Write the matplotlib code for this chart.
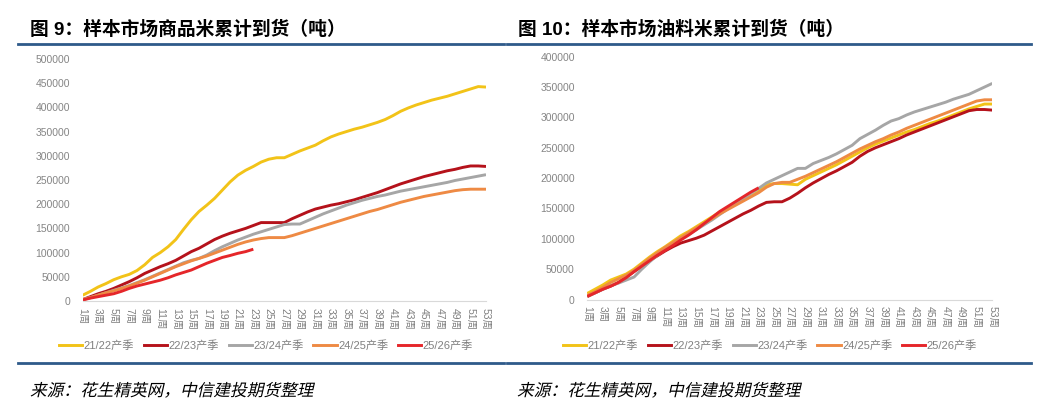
import matplotlib
matplotlib.use("Agg")
import matplotlib.pyplot as plt
from matplotlib.lines import Line2D
from matplotlib import patheffects
from matplotlib.transforms import Affine2D

plt.rcParams['font.family'] = ['Liberation Sans', 'Noto Sans CJK SC', 'DejaVu Sans']

# datos
semanas = list(range(1, 54))
series = ["21/22产季", "22/23产季", "23/24产季", "24/25产季", "25/26产季"]
colores = ["#F2C318", "#B5121B", "#A6A6A6", "#EE8A44", "#E5262A"]

# Figura 9: arroz comercial
com_2122 = [12000, 20000, 29000, 36000, 44000, 50000, 55000, 63000, 75000, 90000,
            100000, 112000, 127000, 148000, 168000, 185000, 198000, 212000, 229000, 246000,
            260000, 270000, 278000, 287000, 293000, 296000, 296000, 303000, 310000, 316000,
            322000, 331000, 339000, 345000, 350000, 355000, 359000, 364000, 369000, 375000,
            383000, 392000, 399000, 405000, 410000, 415000, 419000, 423000, 428000, 433000,
            438000, 443000, 442000]
com_2223 = [3000, 9000, 15000, 20000, 26000, 33000, 40000, 48000, 57000, 64000,
            71000, 77000, 84000, 93000, 102000, 109000, 118000, 127000, 134000, 140000,
            145000, 150000, 156000, 162000, 162000, 162000, 162000, 170000, 177000, 184000,
            190000, 194000, 198000, 201000, 205000, 209000, 214000, 219000, 224000, 230000,
            236000, 242000, 247000, 252000, 257000, 261000, 265000, 269000, 272000, 276000,
            279000, 279000, 278000]
com_2324 = [3000, 7000, 12000, 17000, 22000, 27000, 32000, 38000, 44000, 51000,
            58000, 65000, 72000, 79000, 84000, 88000, 95000, 104000, 112000, 119000,
            126000, 132000, 138000, 143000, 148000, 153000, 158000, 159000, 159000, 166000,
            173000, 180000, 186000, 192000, 198000, 203000, 208000, 212000, 216000, 219000,
            223000, 227000, 230000, 233000, 236000, 239000, 242000, 245000, 249000, 252000,
            255000, 258000, 261000]
com_2425 = [3000, 7000, 12000, 17000, 21000, 26000, 31000, 37000, 43000, 50000,
            57000, 64000, 71000, 77000, 83000, 88000, 93000, 99000, 105000, 111000,
            117000, 122000, 126000, 129000, 131000, 131000, 131000, 135000, 140000, 145000,
            150000, 155000, 160000, 165000, 170000, 175000, 180000, 185000, 189000, 194000,
            199000, 204000, 208000, 212000, 216000, 219000, 222000, 225000, 228000, 230000,
            231000, 231000, 231000]
com_2526 = [2000, 6000, 9000, 12000, 15000, 20000, 26000, 31000, 35000, 39000,
            43000, 48000, 54000, 59000, 64000, 71000, 78000, 84000, 90000, 94000,
            98500, 102000, 107000]

# Figura 10: arroz para aceite
ace_2122 = [10000, 17000, 24000, 32000, 37000, 42000, 50000, 60000, 70000, 79000,
            87000, 96000, 105000, 112000, 120000, 128000, 136000, 144000, 151000, 158000,
            164000, 170000, 178000, 189000, 191000, 191000, 190000, 189000, 198000, 204000,
            210000, 216000, 222000, 229000, 236000, 243000, 250000, 256000, 261000, 266000,
            271000, 276000, 280000, 285000, 290000, 294000, 299000, 304000, 309000, 314000,
            318000, 322000, 322000]
ace_2223 = [5000, 11000, 17000, 22000, 28000, 37000, 46000, 55000, 64000, 72000,
            80000, 87000, 93000, 97000, 101000, 106000, 113000, 120000, 127000, 134000,
            141000, 147000, 154000, 160000, 161000, 161000, 167000, 175000, 184000, 192000,
            199000, 206000, 212000, 219000, 226000, 236000, 244000, 250000, 255000, 260000,
            265000, 271000, 276000, 281000, 286000, 291000, 296000, 301000, 306000, 311000,
            313000, 313000, 312000]
ace_2324 = [5000, 11000, 17000, 23000, 27000, 32000, 37000, 50000, 62000, 73000,
            82000, 91000, 100000, 107000, 115000, 123000, 131000, 140000, 149000, 157000,
            164000, 175000, 183000, 192000, 198000, 204000, 210000, 216000, 216000, 224000,
            229000, 234000, 240000, 247000, 254000, 265000, 272000, 279000, 287000, 294000,
            298000, 304000, 309000, 313000, 317000, 321000, 325000, 330000, 334000, 338000,
            344000, 350000, 356000]
ace_2425 = [7000, 13000, 20000, 28000, 34000, 40000, 48000, 58000, 68000, 77000,
            86000, 94000, 102000, 110000, 118000, 126000, 133000, 141000, 148000, 155000,
            162000, 169000, 176000, 185000, 191000, 193000, 193000, 198000, 203000, 209000,
            215000, 221000, 227000, 234000, 241000, 248000, 254000, 260000, 265000, 271000,
            276000, 282000, 287000, 292000, 297000, 302000, 307000, 312000, 317000, 322000,
            327000, 329000, 329000]
ace_2526 = [5000, 11000, 17000, 22000, 28000, 36000, 46000, 55000, 64000, 73000,
            81000, 89000, 98000, 106000, 115000, 125000, 135000, 145000, 153000, 161000,
            169000, 177000, 184000]

xt = semanas[::2]
xtl = [str(s) + "周" for s in xt]

fig = plt.figure(figsize=(10.48, 4.13), dpi=100)
W, H = 1048.0, 413.0


#Inclinamos el texto (la fuente CJK no tiene cursiva)
class Oblicua(patheffects.AbstractPathEffect):
    def draw_path(self, renderer, gc, tpath, affine, rgbFace=None):
        renderer.draw_path(gc, tpath, Affine2D().skew_deg(13, 0) + affine, rgbFace)


def grafico(rect, datos, ymax, ypaso):
    ax = fig.add_axes(rect)
    for d, c in zip(datos, colores):
        ax.plot(semanas[:len(d)], d, color=c, lw=2.1, solid_capstyle='butt')
    ax.set_xlim(1, 53)
    ax.set_ylim(0, ymax)
    ax.set_yticks(range(0, ymax + 1, ypaso))
    ax.set_xticks(xt)
    ax.set_xticklabels(xtl, rotation=-90, fontsize=7.5, color="#808080")
    ax.tick_params(axis='y', length=0, pad=9, labelsize=7.5, labelcolor="#858585")
    ax.tick_params(axis='x', length=0, pad=5)
    for s in ["top", "right", "left"]:
        ax.spines[s].set_visible(False)
    ax.spines["bottom"].set_color("#D9D9D9")
    return ax


ax1 = grafico([82.7 / W, 1 - 301 / H, (486 - 82.7) / W, (301 - 59) / H],
              [com_2122, com_2223, com_2324, com_2425, com_2526], 500000, 50000)
ax2 = grafico([587.3 / W, 1 - 299.5 / H, (992.3 - 587.3) / W, (299.5 - 56.7) / H],
              [ace_2122, ace_2223, ace_2324, ace_2425, ace_2526], 400000, 50000)

# leyendas
handles = [Line2D([], [], color=c, lw=2.1) for c in colores]
for cx in [266 / W, 770 / W]:
    fig.legend(handles, series, loc='center', bbox_to_anchor=(cx, 1 - 345 / H),
               ncol=5, frameon=False, fontsize=8, handlelength=2.1,
               handletextpad=0.15, columnspacing=0.85, labelcolor="#808080")

# titulos y lineas
fig.text(30 / W, 1 - 30 / H, "图 9：样本市场商品米累计到货（吨）", fontsize=13.5,
         fontweight='bold', va='center', ha='left')
fig.text(518 / W, 1 - 30 / H, "图 10：样本市场油料米累计到货（吨）", fontsize=13.5,
         fontweight='bold', va='center', ha='left')
for y in [43.5, 362.5]:
    fig.add_artist(Line2D([18 / W, 504 / W], [1 - y / H, 1 - y / H], color="#2E5A8A", lw=2.0))
    fig.add_artist(Line2D([507 / W, 1031 / W], [1 - y / H, 1 - y / H], color="#2E5A8A", lw=2.0))

for x0 in [30, 517]:
    fig.text(x0 / W, 1 - 391 / H, "来源：花生精英网，中信建投期货整理", fontsize=12,
             style='italic', va='center', ha='left', path_effects=[Oblicua()])

plt.savefig("out.png", dpi=100)
